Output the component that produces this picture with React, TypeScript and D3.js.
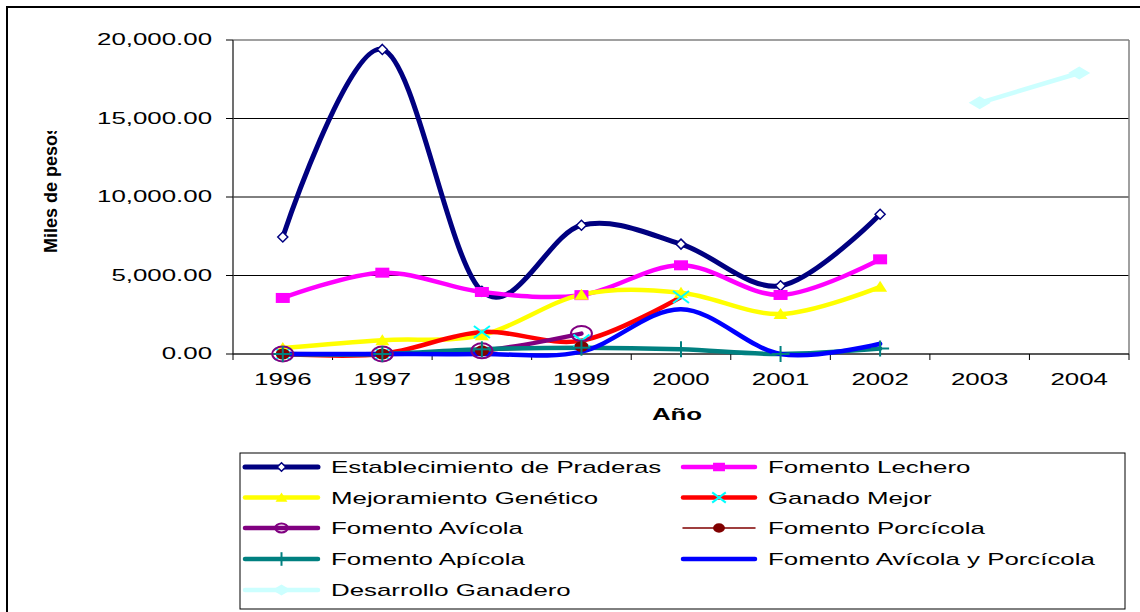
import React from "react";
import * as d3 from "d3";

const years = ["1996", "1997", "1998", "1999", "2000", "2001", "2002", "2003", "2004"];
const yTicks = [0, 5000, 10000, 15000, 20000];

const praderas = [7450, 19400, 4000, 8200, 7000, 4350, 8900, null, null];
const lechero = [3570, 5180, 3950, 3750, 5650, 3760, 6030, null, null];
const genetico = [380, 880, 1200, 3780, 3900, 2550, 4280, null, null];
const ganadoMejor = [0, 0, 1400, 850, 3630, null, null, null, null];
const avicola = [0, 0, 200, 1300, null, null, null, null, null];
const porcicola = [0, 0, 200, 480, null, null, null, null, null];
const apicola = [0, 0, 300, 400, 300, 0, 350, null, null];
const avicolaPorcicola = [0, 0, 0, 150, 2850, 0, 650, null, null];
const desarrollo = [null, null, null, null, null, null, null, 16000, 17900];

type Series = { name: string; values: (number | null)[]; color: string; width: number; marker: string };

const series: Series[] = [
  { name: "Establecimiento de Praderas", values: praderas, color: "#000080", width: 5, marker: "diamondWhite" },
  { name: "Fomento Lechero", values: lechero, color: "#FF00FF", width: 4.5, marker: "square" },
  { name: "Mejoramiento Genético", values: genetico, color: "#FFFF00", width: 4.5, marker: "triangle" },
  { name: "Ganado Mejor", values: ganadoMejor, color: "#FF0000", width: 4.5, marker: "x" },
  { name: "Fomento Avícola", values: avicola, color: "#800080", width: 4.5, marker: "circleOpen" },
  { name: "Fomento Porcícola", values: porcicola, color: "#800000", width: 1.5, marker: "dot" },
  { name: "Fomento Apícola", values: apicola, color: "#008080", width: 4.5, marker: "plus" },
  { name: "Fomento Avícola y Porcícola", values: avicolaPorcicola, color: "#0000FF", width: 4.5, marker: "none" },
  { name: "Desarrollo Ganadero", values: desarrollo, color: "#CCFFFF", width: 4.5, marker: "diamondFilled" },
];

const FONT = "'Liberation Sans', Arial, sans-serif";
const SX = 1.52;

function marker(type: string, color: string, cx: number, cy: number, s: number, key: string) {
  switch (type) {
    case "diamondWhite":
      return (
        <polygon key={key} points={`${cx},${cy - 5 * s} ${cx + 5 * s},${cy} ${cx},${cy + 5 * s} ${cx - 5 * s},${cy}`}
          fill="#fff" stroke={color} strokeWidth={1.5} />
      );
    case "square":
      return <rect key={key} x={cx - 7 * s} y={cy - 5 * s} width={14 * s} height={10 * s} fill={color} />;
    case "triangle":
      return (
        <polygon key={key} points={`${cx},${cy - 6 * s} ${cx + 7 * s},${cy + 5 * s} ${cx - 7 * s},${cy + 5 * s}`} fill={color} />
      );
    case "x":
      return (
        <g key={key} stroke="#00FFFF" strokeWidth={2}>
          <line x1={cx - 8 * s} y1={cy - 6 * s} x2={cx + 8 * s} y2={cy + 6 * s} />
          <line x1={cx - 8 * s} y1={cy + 6 * s} x2={cx + 8 * s} y2={cy - 6 * s} />
        </g>
      );
    case "circleOpen":
      return <ellipse key={key} cx={cx} cy={cy} rx={10.5 * s} ry={7.5 * s} fill="none" stroke={color} strokeWidth={2} />;
    case "dot":
      return <ellipse key={key} cx={cx} cy={cy} rx={7 * s} ry={5.5 * s} fill={color} />;
    case "plus":
      return (
        <g key={key} stroke={color} strokeWidth={2}>
          <line x1={cx} y1={cy - 8 * s} x2={cx} y2={cy + 8 * s} />
          <line x1={cx - 9 * s} y1={cy} x2={cx + 9 * s} y2={cy} />
        </g>
      );
    case "diamondFilled":
      return (
        <polygon key={key} points={`${cx},${cy - 6.5 * s} ${cx + 11 * s},${cy} ${cx},${cy + 6.5 * s} ${cx - 11 * s},${cy}`} fill={color} />
      );
    default:
      return null;
  }
}

function SText(props: { x: number; y: number; anchor?: string; bold?: boolean; size?: number; children: React.ReactNode }) {
  const { x, y, anchor = "start", bold = false, size = 17, children } = props;
  return (
    <text transform={`translate(${x},${y}) scale(${SX},1)`} textAnchor={anchor} fontFamily={FONT}
      fontWeight={bold ? "bold" : "normal"} fontSize={size} fill="#000">
      {children}
    </text>
  );
}

export default function App() {
  const left = 233, right = 1129, top = 40, bottom = 354;
  const x = d3.scalePoint<string>().domain(years).range([left, right]).padding(0.5);
  const band = d3.scaleBand<string>().domain(years).range([left, right]);
  const y = d3.scaleLinear().domain([0, 20000]).range([bottom, top]);

  const lineGen = d3
    .line<number | null>()
    .defined((d) => d != null)
    .x((_, i) => x(years[i]) as number)
    .y((d) => y(d as number))
    .curve(d3.curveCatmullRom.alpha(0));

  const legendRows = [467, 497.5, 528, 559, 590];
  const legendCols = [{ l0: 245, l1: 318, t: 331 }, { l0: 683, l1: 755, t: 768 }];

  return (
    <svg width={1140} height={612} style={{ position: "absolute", left: 0, top: 0 }}>
      <defs>
        <clipPath id="ylab">
          <rect x={0} y={131} width={200} height={300} />
        </clipPath>
      </defs>
      <rect x={0} y={0} width={1140} height={612} fill="#fff" />
      <rect x={7} y={7} width={1150} height={620} fill="none" stroke="#000" strokeWidth={2} />

      {yTicks.slice(1, 4).map((t) => (
        <line key={t} x1={left} x2={right} y1={y(t)} y2={y(t)} stroke="#000" strokeWidth={1} />
      ))}
      <line x1={left} x2={right} y1={top} y2={top} stroke="#808080" strokeWidth={1.5} />
      <line x1={right} x2={right} y1={top} y2={bottom} stroke="#808080" strokeWidth={1.5} />
      <line x1={left} x2={left} y1={top} y2={bottom} stroke="#404040" strokeWidth={1.5} />
      <line x1={left} x2={right} y1={bottom} y2={bottom} stroke="#202020" strokeWidth={1.5} />

      {yTicks.map((t) => (
        <g key={t}>
          <line x1={226} x2={left} y1={y(t)} y2={y(t)} stroke="#000" strokeWidth={1} />
          <SText x={212} y={y(t) + 5} anchor="end">{d3.format(",.2f")(t)}</SText>
        </g>
      ))}
      {years.map((yr) => (
        <line key={yr} x1={band(yr) as number} x2={band(yr) as number} y1={bottom} y2={bottom + 6} stroke="#000" strokeWidth={1} />
      ))}
      <line x1={right} x2={right} y1={bottom} y2={bottom + 6} stroke="#000" strokeWidth={1} />
      {years.map((yr) => (
        <SText key={yr} x={x(yr) as number} y={385} anchor="middle">{yr}</SText>
      ))}

      <SText x={677} y={420} anchor="middle" bold>Año</SText>
      <g clipPath="url(#ylab)">
        <text transform="translate(57,253) rotate(-90)" fontFamily={FONT} fontWeight="bold" fontSize={18} fill="#000">
          Miles de pesos
        </text>
      </g>

      {series.map((s) => (
        <path key={s.name} d={lineGen(s.values) || ""} fill="none" stroke={s.color} strokeWidth={s.width}
          strokeLinejoin="round" strokeLinecap="round" />
      ))}
      {series.map((s) =>
        s.values.map((v, i) => (v == null ? null : marker(s.marker, s.color, x(years[i]) as number, y(v), 1, `${s.name}-${i}`)))
      )}

      <rect x={240} y={453} width={885} height={156} fill="#fff" stroke="#000" strokeWidth={1} />
      {series.map((s, i) => {
        const col = legendCols[i % 2];
        const cy = legendRows[Math.floor(i / 2)];
        const cx = (col.l0 + col.l1) / 2;
        return (
          <g key={s.name}>
            <line x1={col.l0} x2={col.l1} y1={cy} y2={cy} stroke={s.color} strokeWidth={s.width} strokeLinecap="round" />
            {marker(s.marker, s.color, cx, cy, s.marker === "circleOpen" ? 0.6 : 0.85, `lg-${i}`)}
            <SText x={col.t} y={cy + 6}>{s.name}</SText>
          </g>
        );
      })}
    </svg>
  );
}
